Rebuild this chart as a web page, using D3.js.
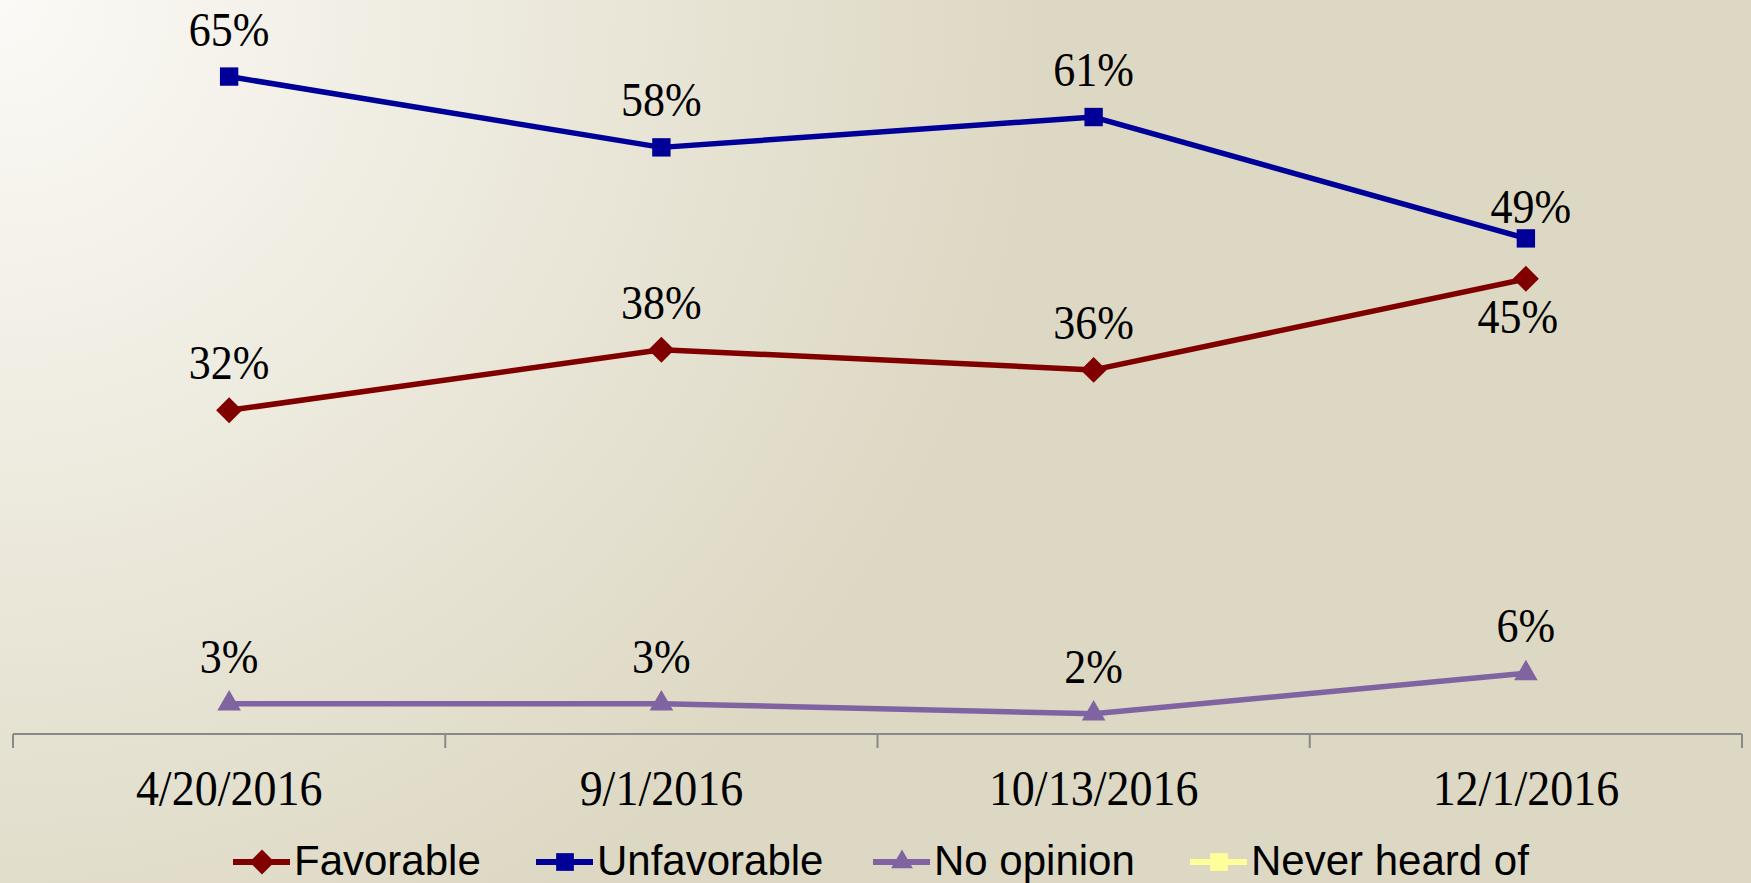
<!DOCTYPE html>
<html>
<head>
<meta charset="utf-8">
<script src="https://cdn.jsdelivr.net/npm/d3@7"></script>
<style>
  html, body { margin: 0; padding: 0; overflow: hidden; }
</style>
</head>
<body>
<div class="chart"></div>
<script>
const width = 1751
const height = 883

// data
const dates = ["4/20/2016", "9/1/2016", "10/13/2016", "12/1/2016"]
const favorable = [32, 38, 36, 45]
const unfavorable = [65, 58, 61, 49]
const noOpinion = [3, 3, 2, 6]
const neverHeard = [] // in legend only

const series = [
    { name: "Favorable", values: favorable, color: "#800000", symbol: d3.symbolDiamond2 },
    { name: "Unfavorable", values: unfavorable, color: "#000099", symbol: d3.symbolSquare2 },
    { name: "No opinion", values: noOpinion, color: "#8064A2", symbol: d3.symbolTriangle2 },
    { name: "Never heard of", values: neverHeard, color: "#FFFF99", symbol: d3.symbolSquare2 }
]

const svg = d3.select(".chart")
    .append("svg")
    .attr("width", width)
    .attr("height", height)

// background
const grad = svg.append("defs").append("radialGradient")
    .attr("id", "bg")
    .attr("gradientUnits", "userSpaceOnUse")
    .attr("cx", 0).attr("cy", 0).attr("r", 1400)
grad.append("stop").attr("offset", "0").attr("stop-color", "#fbfaf6")
grad.append("stop").attr("offset", "0.75").attr("stop-color", "#ddd8c3")
grad.append("stop").attr("offset", "1").attr("stop-color", "#ddd8c3")
svg.append("rect").attr("width", width).attr("height", height).attr("fill", "url(#bg)")

// scales
const x = d3.scaleBand().domain(dates).range([13, 1742])
const y = d3.scaleLinear().domain([0, 70]).range([734, 26])
const cx = d => x(d) + x.bandwidth() / 2

// axis
const axis = svg.append("g").attr("class", "xAxis")
axis.append("line")
    .attr("x1", x.range()[0]).attr("x2", x.range()[1])
    .attr("y1", y(0)).attr("y2", y(0))
    .attr("stroke", "#898989").attr("stroke-width", 2)
axis.selectAll("line.tick")
    .data(dates.map(d => x(d)).concat([x.range()[1]]))
    .join("line")
    .attr("class", "tick")
    .attr("x1", d => d).attr("x2", d => d)
    .attr("y1", y(0)).attr("y2", y(0) + 14)
    .attr("stroke", "#898989").attr("stroke-width", 2)
axis.selectAll("text")
    .data(dates)
    .join("text")
    .attr("transform", d => `translate(${cx(d)}, ${805}) scale(1, 1.08)`)
    .attr("text-anchor", "middle")
    .attr("font-family", "'Liberation Serif', 'Times New Roman', serif")
    .attr("font-size", 46)
    .attr("fill", "black")
    .text(d => d)

// lines, markers, labels
const line = d3.line()
    .x((d, i) => cx(dates[i]))
    .y(d => y(d))

const plotted = series.filter(s => s.values.length)

svg.selectAll("path.line")
    .data(plotted)
    .join("path")
    .attr("class", "line")
    .attr("fill", "none")
    .attr("stroke", d => d.color)
    .attr("stroke-width", 5.5)
    .attr("stroke-linejoin", "round")
    .attr("d", d => line(d.values))

const markerSize = s => s.symbol === d3.symbolTriangle2 ? 400 : 430

plotted.forEach(s => {
    const g = svg.append("g")
    g.selectAll("path")
        .data(s.values)
        .join("path")
        .attr("transform", (v, i) => `translate(${cx(dates[i])}, ${y(v)})`)
        .attr("d", d3.symbol().type(s.symbol).size(markerSize(s)))
        .attr("fill", s.color)

    g.selectAll("text")
        .data(s.values)
        .join("text")
        .attr("transform", (v, i) => {
            let dx = 0
            let dy = -31
            // last favorable label sits under its point, last unfavorable closer
            if (s.name === "Favorable" && i === s.values.length - 1) { dy = 54; dx = -8 }
            if (s.name === "Unfavorable" && i === s.values.length - 1) { dy = -15; dx = 5 }
            return `translate(${cx(dates[i]) + dx}, ${y(v) + dy}) scale(1, 1.08)`
        })
        .attr("text-anchor", "middle")
        .attr("font-family", "'Liberation Serif', 'Times New Roman', serif")
        .attr("font-size", 44)
        .attr("fill", "black")
        .text(v => v + "%")
})

// legend
const legendX = [233, 536, 873, 1190]
const legend = svg.append("g").attr("class", "legend")
series.forEach((s, i) => {
    const g = legend.append("g").attr("transform", `translate(${legendX[i]}, ${862})`)
    g.append("line")
        .attr("x1", 0).attr("x2", 57)
        .attr("stroke", s.color).attr("stroke-width", 6)
    g.append("path")
        .attr("transform", "translate(29, 0)")
        .attr("d", d3.symbol().type(s.symbol).size(s.symbol === d3.symbolTriangle2 ? 340 : 400))
        .attr("fill", s.color)
    g.append("text")
        .attr("x", 61)
        .attr("y", 13)
        .attr("font-family", "'Liberation Sans', Arial, sans-serif")
        .attr("font-size", 42)
        .attr("fill", "black")
        .text(s.name)
})
</script>
</body>
</html>
